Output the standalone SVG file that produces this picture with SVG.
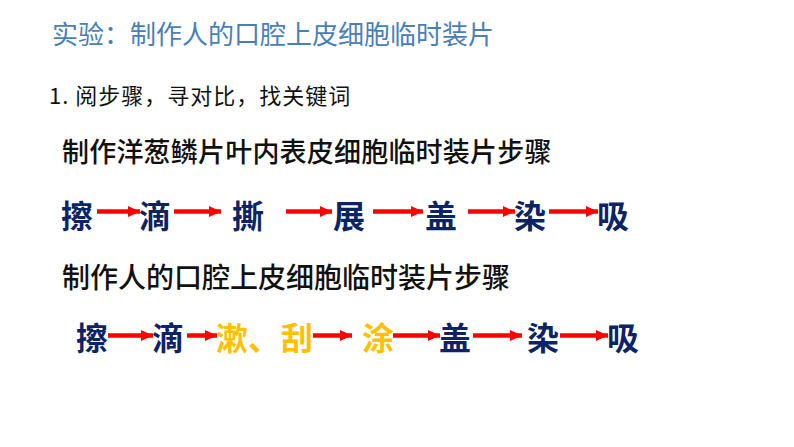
<svg xmlns="http://www.w3.org/2000/svg" width="794" height="447" viewBox="0 0 794 447">
<style>
text{font-family:"Microsoft YaHei","Noto Sans CJK SC","Liberation Sans",sans-serif;}
.title{font-size:26px;fill:#4a7ebb;}
.sub{font-size:22px;fill:#111;letter-spacing:1px;}
.head{font-size:27px;fill:#111;font-weight:500;}
.head2{font-size:28px;}
.step{font-size:32px;font-weight:700;fill:#0c2365;}
.gold{fill:#ffc000;}
.arr{stroke:#ff0000;stroke-width:4.5;fill:none;}
</style>
<defs>
<marker id="ah" markerUnits="userSpaceOnUse" markerWidth="12" markerHeight="11" refX="12" refY="5.5" orient="auto">
<path d="M0,0 L12,5.5 L0,11 Z" fill="#ff0000"/>
</marker>
</defs>
<rect width="794" height="447" fill="#ffffff"/>
<text class="title" x="52" y="44">实验：制作人的口腔上皮细胞临时装片</text>
<text class="sub" x="49" y="104">1. 阅步骤，寻对比，找关键词</text>
<text class="head" x="62" y="162" letter-spacing="0.2">制作洋葱鳞片叶内表皮细胞临时装片步骤</text>
<text class="head head2" x="62" y="288">制作人的口腔上皮细胞临时装片步骤</text>

<g id="n1-ca"><text class="step" x="61" y="228">擦</text></g>
<g id="n1-di"><text class="step" x="139" y="228">滴</text></g>
<g id="n1-si"><text class="step" x="232" y="228">撕</text></g>
<g id="n1-zhan"><text class="step" x="333" y="228">展</text></g>
<g id="n1-gai"><text class="step" x="425" y="228">盖</text></g>
<g id="n1-ran"><text class="step" x="514" y="228">染</text></g>
<g id="n1-xi"><text class="step" x="597" y="228">吸</text></g>

<g id="n2-ca"><text class="step" x="76" y="350">擦</text></g>
<g id="n2-di"><text class="step" x="152" y="350">滴</text></g>
<g id="n2-shu"><text class="step gold" x="216" y="350">漱、</text></g>
<g id="n2-gua"><text class="step gold" x="281" y="350">刮</text></g>
<g id="n2-tu"><text class="step gold" x="362" y="350">涂</text></g>
<g id="n2-gai"><text class="step" x="439" y="350">盖</text></g>
<g id="n2-ran"><text class="step" x="527" y="350">染</text></g>
<g id="n2-xi"><text class="step" x="607" y="350">吸</text></g>

<g id="connectors">
<line class="arr" x1="97" y1="211.5" x2="140" y2="211.5" marker-end="url(#ah)"/>
<line class="arr" x1="174" y1="211.5" x2="221" y2="211.5" marker-end="url(#ah)"/>
<line class="arr" x1="286" y1="211.5" x2="332" y2="211.5" marker-end="url(#ah)"/>
<line class="arr" x1="373" y1="211.5" x2="423" y2="211.5" marker-end="url(#ah)"/>
<line class="arr" x1="468" y1="211.5" x2="515" y2="211.5" marker-end="url(#ah)"/>
<line class="arr" x1="549" y1="211.5" x2="598" y2="211.5" marker-end="url(#ah)"/>
<line class="arr" x1="108" y1="335.5" x2="153" y2="335.5" marker-end="url(#ah)"/>
<line class="arr" x1="187" y1="335.5" x2="217" y2="335.5" marker-end="url(#ah)"/>
<line class="arr" x1="313" y1="335.5" x2="352" y2="335.5" marker-end="url(#ah)"/>
<line class="arr" x1="393" y1="335.5" x2="440" y2="335.5" marker-end="url(#ah)"/>
<line class="arr" x1="473" y1="335.5" x2="522" y2="335.5" marker-end="url(#ah)"/>
<line class="arr" x1="560" y1="335.5" x2="608" y2="335.5" marker-end="url(#ah)"/>
</g>
</svg>
